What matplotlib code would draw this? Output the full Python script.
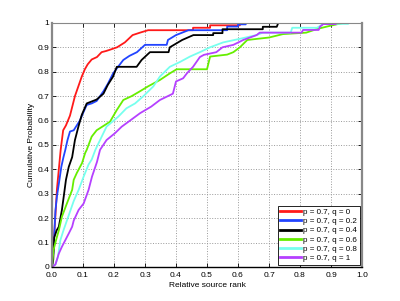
import matplotlib
matplotlib.use("Agg")
import matplotlib.pyplot as plt

# ── Data ──────────────────────────────────────────────────────
labels = ["p = 0.7, q = 0", "p = 0.7, q = 0.2", "p = 0.7, q = 0.4",
          "p = 0.7, q = 0.6", "p = 0.7, q = 0.8", "p = 0.7, q = 1"]
colors = ["#ff1a1a", "#2244ff", "#000000", "#66ee00", "#77ffee", "#b540ff"]

x_q0 = [0, 0.004, 0.008, 0.011, 0.016, 0.022, 0.028, 0.036, 0.045, 0.058, 0.066,
        0.074, 0.085, 0.096, 0.106, 0.115, 0.128, 0.145, 0.16, 0.175, 0.187,
        0.21, 0.235, 0.26, 0.284, 0.31, 0.455, 0.455, 0.51, 0.51, 0.606, 0.606]
y_q0 = [0, 0.07, 0.15, 0.21, 0.32, 0.40, 0.48, 0.56, 0.58, 0.62, 0.66,
        0.70, 0.74, 0.78, 0.81, 0.83, 0.85, 0.86, 0.88, 0.885, 0.89,
        0.90, 0.92, 0.95, 0.96, 0.97, 0.97, 0.98, 0.98, 0.99, 0.99, 1.0]

x_q02 = [0, 0.005, 0.011, 0.016, 0.022, 0.03, 0.037, 0.043, 0.05, 0.058, 0.07,
         0.08, 0.09, 0.1, 0.112, 0.128, 0.144, 0.155, 0.166, 0.18, 0.197, 0.213,
         0.23, 0.25, 0.274, 0.30, 0.37, 0.374, 0.40, 0.42, 0.44, 0.565, 0.565,
         0.60, 0.60, 0.625, 0.625]
y_q02 = [0, 0.07, 0.23, 0.29, 0.34, 0.41, 0.45, 0.48, 0.52, 0.555, 0.56,
         0.58, 0.60, 0.63, 0.664, 0.67, 0.68, 0.70, 0.72, 0.75, 0.793, 0.82,
         0.848, 0.865, 0.88, 0.91, 0.91, 0.93, 0.95, 0.96, 0.97, 0.97, 0.985,
         0.985, 0.994, 0.994, 1.0]

x_q04 = [0, 0.004, 0.007, 0.015, 0.022, 0.032, 0.038, 0.045, 0.054, 0.065, 0.074,
         0.085, 0.096, 0.112, 0.144, 0.166, 0.18, 0.197, 0.209, 0.273, 0.289,
         0.316, 0.376, 0.38, 0.42, 0.456, 0.52, 0.52, 0.55, 0.55, 0.68, 0.68,
         0.725, 0.73]
y_q04 = [0, 0.03, 0.12, 0.15, 0.165, 0.234, 0.29, 0.357, 0.41, 0.45, 0.52,
         0.574, 0.623, 0.67, 0.686, 0.71, 0.746, 0.78, 0.82, 0.82, 0.848,
         0.88, 0.88, 0.90, 0.93, 0.95, 0.95, 0.958, 0.958, 0.974, 0.974, 0.984,
         0.984, 1.0]

x_q06 = [0, 0.005, 0.013, 0.022, 0.032, 0.048, 0.065, 0.07, 0.08, 0.097, 0.107,
         0.112, 0.128, 0.144, 0.187, 0.209, 0.23, 0.257, 0.284, 0.31, 0.348,
         0.38, 0.402, 0.50, 0.51, 0.565, 0.585, 0.606, 0.63, 0.70, 0.745, 0.82,
         0.855, 0.897, 0.94]
y_q06 = [0, 0.07, 0.11, 0.15, 0.206, 0.26, 0.316, 0.357, 0.385, 0.426, 0.467,
         0.48, 0.534, 0.56, 0.595, 0.643, 0.684, 0.70, 0.72, 0.74, 0.766,
         0.793, 0.81, 0.81, 0.862, 0.87, 0.88, 0.90, 0.93, 0.94, 0.954, 0.96,
         0.975, 0.988, 1.0]

x_q08 = [0, 0.011, 0.019, 0.027, 0.037, 0.048, 0.059, 0.07, 0.086, 0.102, 0.118,
         0.128, 0.14, 0.155, 0.176, 0.214, 0.24, 0.268, 0.295, 0.327, 0.348,
         0.38, 0.413, 0.445, 0.477, 0.51, 0.552, 0.60, 0.66, 0.68, 0.77, 0.775,
         0.855, 0.875, 0.955, 0.96]
y_q08 = [0, 0.01, 0.04, 0.11, 0.15, 0.19, 0.23, 0.27, 0.316, 0.37, 0.42,
         0.44, 0.48, 0.52, 0.575, 0.616, 0.65, 0.67, 0.70, 0.74, 0.78,
         0.82, 0.84, 0.862, 0.88, 0.90, 0.92, 0.933, 0.95, 0.96, 0.96, 0.98,
         0.98, 0.996, 0.996, 1.0]

x_q1 = [0, 0.011, 0.022, 0.032, 0.043, 0.054, 0.065, 0.07, 0.086, 0.102, 0.118,
        0.129, 0.145, 0.155, 0.176, 0.203, 0.225, 0.252, 0.284, 0.32, 0.348,
        0.39, 0.40, 0.423, 0.435, 0.455, 0.477, 0.49, 0.53, 0.55, 0.585,
        0.617, 0.66, 0.67, 0.805, 0.81, 0.86, 0.865, 0.875, 0.915, 0.92]
y_q1 = [0, 0.01, 0.055, 0.083, 0.11, 0.137, 0.165, 0.19, 0.234, 0.26, 0.316,
        0.37, 0.43, 0.48, 0.52, 0.548, 0.575, 0.60, 0.63, 0.657, 0.684,
        0.71, 0.76, 0.773, 0.793, 0.82, 0.86, 0.869, 0.88, 0.90, 0.91,
        0.93, 0.95, 0.96, 0.96, 0.971, 0.971, 0.985, 0.995, 0.995, 1.0]

series = [(x_q0, y_q0), (x_q02, y_q02), (x_q04, y_q04),
          (x_q06, y_q06), (x_q08, y_q08), (x_q1, y_q1)]

x_ticks = [0.0, 0.1, 0.2, 0.3, 0.4, 0.5, 0.6, 0.7, 0.8, 0.9, 1.0]
x_tick_labels = ["0.0", "0.1", "0.2", "0.3", "0.4", "0.5", "0.6", "0.7", "0.8", "0.9", "1.0"]
y_ticks = [0, 0.1, 0.2, 0.3, 0.4, 0.5, 0.6, 0.7, 0.8, 0.9, 1.0]
y_tick_labels = ["0", "0.1", "0.2", "0.3", "0.4", "0.5", "0.6", "0.7", "0.8", "0.9", "1"]

# ── Figure ────────────────────────────────────────────────────
plt.rcParams["font.family"] = ["Liberation Sans", "DejaVu Sans"]

fig = plt.figure(figsize=(4.0, 3.01), dpi=100)
ax = fig.add_axes([0.13, 0.113, 0.775, 0.811])

for (xs, ys), lab, col in zip(series, labels, colors):
    ax.plot(xs, ys, color=col, lw=1.3, label=lab)

ax.set_xlim(0, 1)
ax.set_ylim(0, 1)
ax.set_xticks(x_ticks)
ax.set_xticklabels(x_tick_labels)
ax.set_yticks(y_ticks)
ax.set_yticklabels(y_tick_labels)
ax.tick_params(direction="in", length=3, width=0.6, labelsize=6,
               top=True, right=True)
ax.tick_params(axis="x", pad=3.5)
ax.tick_params(axis="y", pad=2)
ax.grid(True, linestyle=":", color="#999999", linewidth=0.7)

for side in ["left", "right", "top"]:
    ax.spines[side].set_color("#888888")
ax.spines["left"].set_linewidth(1.6)
ax.spines["right"].set_linewidth(1.6)
ax.spines["top"].set_linewidth(0.8)
ax.spines["bottom"].set_color("black")
ax.spines["bottom"].set_linewidth(1.0)

ax.set_xlabel("Relative source rank", fontsize=6, labelpad=2)
ax.set_ylabel("Cumulative Probability", fontsize=6, labelpad=2)

leg = ax.legend(loc="lower right", fontsize=5.8, fancybox=False, framealpha=1,
                edgecolor="black", handlelength=2.6, handletextpad=0.3,
                borderpad=0.3, labelspacing=0.2, borderaxespad=0.3)
leg.get_frame().set_linewidth(0.6)
for line in leg.get_lines():
    line.set_linewidth(2.0)

fig.savefig("out.png", dpi=100)
